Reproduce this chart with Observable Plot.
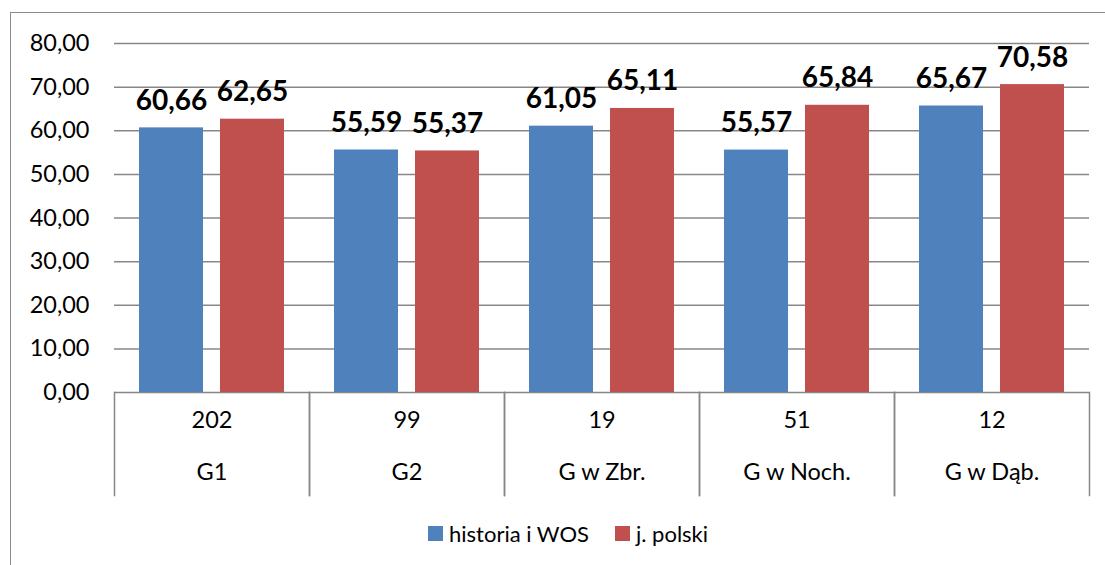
<!DOCTYPE html>
<html>
<head>
<meta charset="utf-8">
<script src="https://cdn.jsdelivr.net/npm/d3@7"></script>
<script src="https://cdn.jsdelivr.net/npm/@observablehq/plot@0.6"></script>
<style>
  html, body { margin: 0; padding: 0; background: #fff; overflow: hidden; }
  #wrap { position: relative; width: 1105px; height: 565px; font-family: Lato, "Open Sans", sans-serif; }
  #border { position: absolute; left: 10px; top: 12px; width: 1110px; height: 570px; border: 1.5px solid #8a8a8a; box-sizing: border-box; }
  #chart { position: absolute; left: 0; top: 0; }
  #legend { position: absolute; left: 428px; top: 520px; display: flex; align-items: center; font-size: 22px; color: #000; }
  .sw { width: 15px; height: 15px; display: inline-block; margin-right: 6px; }
  .item { display: flex; align-items: center; margin-right: 26px; }
</style>
</head>
<body>
<div id="wrap">
  <div id="border"></div>
  <div id="chart"></div>
  <div id="legend"></div>
</div>
<script>
const categories = ["G1", "G2", "G w Zbr.", "G w Noch.", "G w Dąb."];
const counts = ["202", "99", "19", "51", "12"];
const series = ["historia i WOS", "j. polski"];
const historia = [60.66, 55.59, 61.05, 55.57, 65.67];
const polski = [62.65, 55.37, 65.11, 65.84, 70.58];
const yTicks = [0, 10, 20, 30, 40, 50, 60, 70, 80];
const colors = ["#4F81BD", "#C0504D"];

const fmt = v => v.toFixed(2).replace(".", ",");
const data = categories.flatMap((c, i) => [
  {cat: c, series: series[0], value: historia[i]},
  {cat: c, series: series[1], value: polski[i]}
]);
const table = categories.map((c, i) => ({cat: c, count: counts[i]}));

const plot = Plot.plot({
  width: 1105,
  height: 500,
  marginLeft: 113,
  marginRight: 15,
  marginTop: 43,
  marginBottom: 108,
  style: {fontFamily: "Lato, 'Open Sans', sans-serif", fontSize: "23.5px", color: "#000", background: "transparent", overflow: "visible"},
  fx: {domain: categories, padding: 0, axis: null, label: null},
  x: {domain: series, paddingInner: 0.209, paddingOuter: 0.307, axis: null},
  y: {domain: [0, 80], ticks: yTicks, tickFormat: fmt, tickSize: 0, tickPadding: 25, label: null},
  color: {domain: series, range: colors},
  marks: [
    Plot.ruleY(yTicks, {stroke: "#878787", strokeWidth: 1.5}),
    Plot.barY(data, {fx: "cat", x: "series", y: "value", fill: "series"}),
    Plot.text(data, {fx: "cat", x: "series", y: "value", text: d => fmt(d.value), lineAnchor: "bottom", dy: -18, fontWeight: "bold", fontSize: 28, fill: "#000"}),
    Plot.frame({anchor: "left", insetTop: 349, insetBottom: -103, stroke: "#878787", strokeWidth: 1.5}),
    Plot.frame({anchor: "right", insetTop: 349, insetBottom: -103, stroke: "#878787", strokeWidth: 1.5}),
    Plot.text(table, {fx: "cat", text: "count", frameAnchor: "bottom", dy: 35, fill: "#000"}),
    Plot.text(table, {fx: "cat", text: "cat", frameAnchor: "bottom", dy: 87, fill: "#000"})
  ]
});
document.getElementById("chart").appendChild(plot);

const legend = document.getElementById("legend");
series.forEach((s, i) => {
  const item = document.createElement("div");
  item.className = "item";
  const sw = document.createElement("span");
  sw.className = "sw";
  sw.style.background = colors[i];
  const label = document.createElement("span");
  label.textContent = s;
  item.appendChild(sw);
  item.appendChild(label);
  legend.appendChild(item);
});
</script>
</body>
</html>
